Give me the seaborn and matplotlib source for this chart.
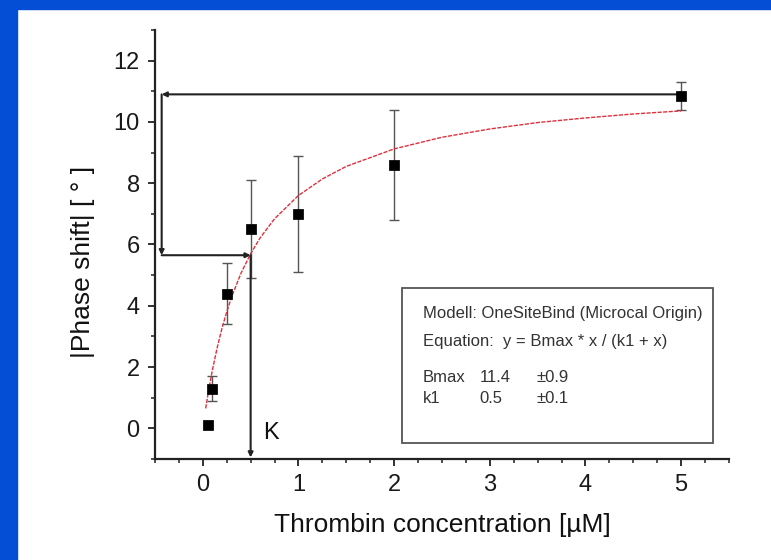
import matplotlib
matplotlib.use("Agg")
import matplotlib.pyplot as plt
from matplotlib.patches import Rectangle
import seaborn as sb
import numpy as np
import pandas as pd

# Mesures (concentration de thrombine en µM, |déphasage| en degrés)
conc = [0.05, 0.1, 0.25, 0.5, 1.0, 2.0, 5.0]
phase = [0.1, 1.3, 4.4, 6.5, 7.0, 8.6, 10.85]
err = [0.0, 0.4, 1.0, 1.6, 1.9, 1.8, 0.45]

# Courbe d'ajustement
fit_x = [0.03, 0.06, 0.1, 0.15, 0.2, 0.25, 0.3, 0.4, 0.5, 0.6, 0.75, 1.0,
         1.25, 1.5, 2.0, 2.5, 3.0, 3.5, 4.0, 4.5, 5.0]
fit_y = [0.65, 1.22, 1.9, 2.63, 3.26, 3.8, 4.28, 5.07, 5.7, 6.22, 6.84, 7.6,
         8.14, 8.55, 9.12, 9.5, 9.77, 9.98, 10.13, 10.26, 10.36]

# Repères de lecture de K
y_sat = 10.9
y_half = 5.65
k_val = 0.5
x_bracket = -0.43

xticks = [0, 1, 2, 3, 4, 5]
yticks = [0, 2, 4, 6, 8, 10, 12]

box_lines = ["Modell: OneSiteBind (Microcal Origin)",
             "Equation:  y = Bmax * x / (k1 + x)"]
params = [("Bmax", "11.4", "\u00b10.9"), ("k1", "0.5", "\u00b10.1")]

sb.set_style("ticks")
plt.rcParams['font.family'] = ['Liberation Sans', 'DejaVu Sans']
plt.rcParams['text.color'] = '#111111'
plt.rcParams['axes.labelcolor'] = '#111111'
plt.rcParams['xtick.labelcolor'] = '#1a1a1a'
plt.rcParams['ytick.labelcolor'] = '#1a1a1a'

fig = plt.figure(figsize=(7.71, 5.60), dpi=100, facecolor="white")
ax = fig.add_axes([0.201, 0.1804, 0.7445, 0.766])

# bordure bleue
fig.patches.append(Rectangle((0, 0), 17 / 771, 1, transform=fig.transFigure,
                             color="#034ed4", zorder=-1))
fig.patches.append(Rectangle((0, 1 - 9 / 560), 1, 9 / 560, transform=fig.transFigure,
                             color="#034ed4", zorder=-1))

df = pd.DataFrame({"x": conc, "y": phase})
fit = pd.DataFrame({"x": fit_x, "y": fit_y})

sb.lineplot(data=fit, x="x", y="y", ax=ax, color="#e0303c", lw=1.0,
            dashes=False, zorder=3)
ax.lines[-1].set_dashes((3, 1))
ax.errorbar(conc, phase, yerr=err, fmt="none", ecolor="#555555", elinewidth=1.0,
            capsize=3.5, capthick=1.0, zorder=2)
sb.scatterplot(data=df, x="x", y="y", ax=ax, marker="s", s=45, color="black",
               edgecolor="black", zorder=4)

arrow = dict(arrowstyle="-|>", lw=1.5, color="#222222", mutation_scale=7,
             shrinkA=0, shrinkB=0)
ax.annotate("", xy=(x_bracket, y_sat), xytext=(conc[-1], y_sat), arrowprops=arrow)
ax.annotate("", xy=(x_bracket, y_half), xytext=(x_bracket, y_sat), arrowprops=arrow)
ax.annotate("", xy=(k_val, y_half), xytext=(x_bracket, y_half), arrowprops=arrow)
ax.annotate("", xy=(k_val, -0.95), xytext=(k_val, y_half), arrowprops=arrow)
ax.text(k_val + 0.13, -0.15, "K", fontsize=17, va="center", ha="left")

# encadré des paramètres
ax.add_patch(Rectangle((0.43, 0.037), 0.542, 0.362, transform=ax.transAxes,
                       fill=False, ec="#555555", lw=1.3, zorder=5))
txt = dict(transform=ax.transAxes, fontsize=12, color="#333333", va="center")
ax.text(0.467, 0.340, box_lines[0], **txt)
ax.text(0.467, 0.273, box_lines[1], **txt)
for i, (name, val, pm) in enumerate(params):
    yy = 0.191 - i * 0.049
    ax.text(0.467, yy, name, **txt)
    ax.text(0.566, yy, val, **txt)
    ax.text(0.664, yy, pm, **txt)

ax.set_xlim(-0.5, 5.5)
ax.set_ylim(-1, 13)
ax.set_xticks(xticks)
ax.set_yticks(yticks)
ax.set_xticks(np.arange(-0.5, 5.51, 0.25), minor=True)
ax.set_yticks(np.arange(-1, 13.1, 1), minor=True)
ax.tick_params(which="major", length=5, width=1.3, labelsize=17, pad=6, color="#222222")
ax.tick_params(which="minor", length=3, width=1.1, color="#222222")
for s in ["left", "bottom"]:
    ax.spines[s].set_linewidth(1.6)
    ax.spines[s].set_color("#222222")
sb.despine(ax=ax)

ax.set_xlabel("Thrombin concentration [\u00b5M]", fontsize=19, labelpad=12)
ax.set_ylabel("|Phase shift| [ \u00b0 ]", fontsize=19)
ax.yaxis.set_label_coords(-0.105, 0.459)

fig.savefig("out.png", dpi=100, facecolor="white")
